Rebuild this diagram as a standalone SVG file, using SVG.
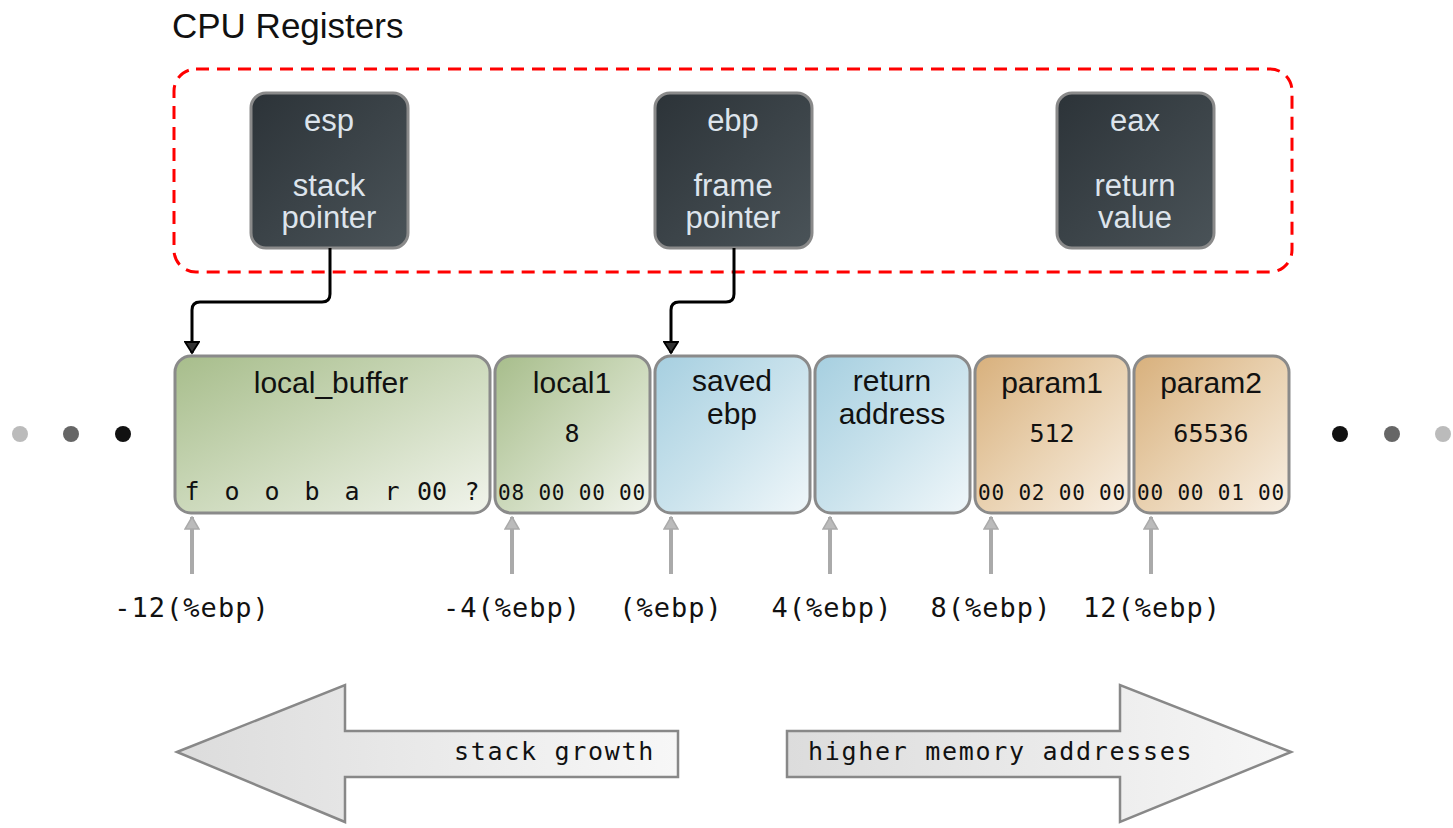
<svg xmlns="http://www.w3.org/2000/svg" width="1453" height="828" viewBox="0 0 1453 828">
<defs>
<linearGradient id="gReg" x1="0" y1="0" x2="1" y2="1"><stop offset="0" stop-color="#2c3338"/><stop offset="1" stop-color="#4a5358"/></linearGradient>
<linearGradient id="gGreen" x1="0" y1="0" x2="1" y2="1"><stop offset="0" stop-color="#a7bd8b"/><stop offset="0.5" stop-color="#ccd9bb"/><stop offset="1" stop-color="#f1f4ec"/></linearGradient>
<linearGradient id="gBlue" x1="0" y1="0" x2="1" y2="1"><stop offset="0" stop-color="#a6cfe0"/><stop offset="0.5" stop-color="#c9e2ec"/><stop offset="1" stop-color="#f0f7fa"/></linearGradient>
<linearGradient id="gTan" x1="0" y1="0" x2="1" y2="1"><stop offset="0" stop-color="#d8b07c"/><stop offset="0.5" stop-color="#e9d1b0"/><stop offset="1" stop-color="#f8efe3"/></linearGradient>
<linearGradient id="gArrow" x1="0" y1="0" x2="1" y2="0"><stop offset="0" stop-color="#dcdcdc"/><stop offset="1" stop-color="#f7f7f7"/></linearGradient>
<marker id="mBlack" viewBox="-1 -1 14 16" refX="11" refY="7" markerWidth="14" markerHeight="16" markerUnits="userSpaceOnUse" orient="auto">
<path d="M0,0 L11,7 L0,14 Z" fill="#333" stroke="#000" stroke-width="1.8"/>
</marker>
<marker id="mGray" viewBox="-1 -1 16 14" refX="7" refY="0" markerWidth="16" markerHeight="14" markerUnits="userSpaceOnUse" orient="0">
<path d="M7,0 L14,12 L0,12 Z" fill="#bbb" stroke="#aaa" stroke-width="1.5"/>
</marker>
</defs>
<style>
.reg{fill:url(#gReg);stroke:#8a8a8a;stroke-width:3}
.regt{font-family:"Liberation Sans",Arial,sans-serif;font-size:31px;fill:#dde4ec;text-anchor:middle}
.box{stroke:#8a8a8a;stroke-width:3}
.lab{font-family:"Liberation Sans",Arial,sans-serif;font-size:30px;fill:#111;text-anchor:middle}
.mono{font-family:"DejaVu Sans Mono","Liberation Mono",monospace;fill:#111}
.hex{font-size:21px;text-anchor:middle;letter-spacing:0.8px}
.val{font-size:25px;text-anchor:middle}
.off{font-size:27px;text-anchor:middle;letter-spacing:1px}
.big{font-size:25px;letter-spacing:1.7px}
.conn{fill:none;stroke:#000;stroke-width:3}
.up{fill:none;stroke:#aaa;stroke-width:4}
.bigarrow{fill:url(#gArrow);stroke:#888;stroke-width:2.5}
</style>
<rect width="1453" height="828" fill="#fff"/>
<text x="172" y="38" font-family="Liberation Sans,Arial,sans-serif" font-size="35" fill="#111">CPU Registers</text>
<rect x="174" y="69" width="1118" height="203" rx="22" fill="none" stroke="#f00" stroke-width="3" stroke-dasharray="13,8"/>
<g id="esp"><rect class="reg" x="251" y="93" width="157" height="155" rx="15"/><text class="regt" x="329" y="131">esp</text><text class="regt" x="329" y="196">stack</text><text class="regt" x="329" y="228">pointer</text></g>
<g id="ebp"><rect class="reg" x="655" y="93" width="157" height="155" rx="15"/><text class="regt" x="733" y="131">ebp</text><text class="regt" x="733" y="196">frame</text><text class="regt" x="733" y="228">pointer</text></g>
<g id="eax"><rect class="reg" x="1057" y="93" width="157" height="155" rx="15"/><text class="regt" x="1135" y="131">eax</text><text class="regt" x="1135" y="196">return</text><text class="regt" x="1135" y="228">value</text></g>
<g id="connectors">
<path class="conn" d="M330,248 V294 Q330,302 322,302 H200 Q192,302 192,310 V353" marker-end="url(#mBlack)"/>
<path class="conn" d="M734,248 V294 Q734,302 726,302 H679 Q671,302 671,310 V353" marker-end="url(#mBlack)"/>
</g>
<g id="local_buffer"><rect class="box" x="175" y="356" width="315" height="157" rx="16" fill="url(#gGreen)"/><text class="lab" x="331" y="393">local_buffer</text>
<g class="mono val" font-size="23"><text x="192" y="500">f</text><text x="232" y="500">o</text><text x="272" y="500">o</text><text x="312" y="500">b</text><text x="352" y="500">a</text><text x="392" y="500">r</text><text x="432" y="500">00</text><text x="472" y="500">?</text></g></g>
<g id="local1"><rect class="box" x="495" y="356" width="155" height="157" rx="16" fill="url(#gGreen)"/><text class="lab" x="572" y="393">local1</text><text class="mono val" x="572" y="442">8</text><text class="mono hex" x="572" y="500">08 00 00 00</text></g>
<g id="saved_ebp"><rect class="box" x="655" y="356" width="155" height="157" rx="16" fill="url(#gBlue)"/><text class="lab" x="732" y="391">saved</text><text class="lab" x="732" y="424">ebp</text></g>
<g id="return_address"><rect class="box" x="815" y="356" width="155" height="157" rx="16" fill="url(#gBlue)"/><text class="lab" x="892" y="391">return</text><text class="lab" x="892" y="424">address</text></g>
<g id="param1"><rect class="box" x="975" y="356" width="154" height="157" rx="16" fill="url(#gTan)"/><text class="lab" x="1052" y="393">param1</text><text class="mono val" x="1052" y="442">512</text><text class="mono hex" x="1052" y="500">00 02 00 00</text></g>
<g id="param2"><rect class="box" x="1134" y="356" width="155" height="157" rx="16" fill="url(#gTan)"/><text class="lab" x="1211" y="393">param2</text><text class="mono val" x="1211" y="442">65536</text><text class="mono hex" x="1211" y="500">00 00 01 00</text></g>
<g id="dots"><circle cx="20" cy="434" r="8" fill="#bbb"/><circle cx="71" cy="434" r="8" fill="#666"/><circle cx="123" cy="434" r="8" fill="#111"/><circle cx="1340" cy="434" r="8" fill="#111"/><circle cx="1392" cy="434" r="8" fill="#666"/><circle cx="1443" cy="434" r="8" fill="#bbb"/></g>
<g id="offset_arrows">
<path class="up" d="M192,517 V574" marker-start="url(#mGray)"/>
<path class="up" d="M512,517 V574" marker-start="url(#mGray)"/>
<path class="up" d="M671,517 V574" marker-start="url(#mGray)"/>
<path class="up" d="M830,517 V574" marker-start="url(#mGray)"/>
<path class="up" d="M991,517 V574" marker-start="url(#mGray)"/>
<path class="up" d="M1151,517 V574" marker-start="url(#mGray)"/>
</g>
<g id="offsets" class="mono off">
<text x="192" y="617">-12(%ebp)</text><text x="512" y="617">-4(%ebp)</text><text x="671" y="617">(%ebp)</text><text x="832" y="617">4(%ebp)</text><text x="991" y="617">8(%ebp)</text><text x="1152" y="617">12(%ebp)</text>
</g>
<g id="stack_growth"><path class="bigarrow" d="M177,752 L345,685 V731 H678 V777 H345 V822 Z"/><text class="mono big" x="655" y="760" text-anchor="end">stack growth</text></g>
<g id="higher_memory"><path class="bigarrow" d="M1291,752 L1120,685 V731 H787 V777 H1120 V822 Z"/><text class="mono big" x="808" y="760">higher memory addresses</text></g>
</svg>
